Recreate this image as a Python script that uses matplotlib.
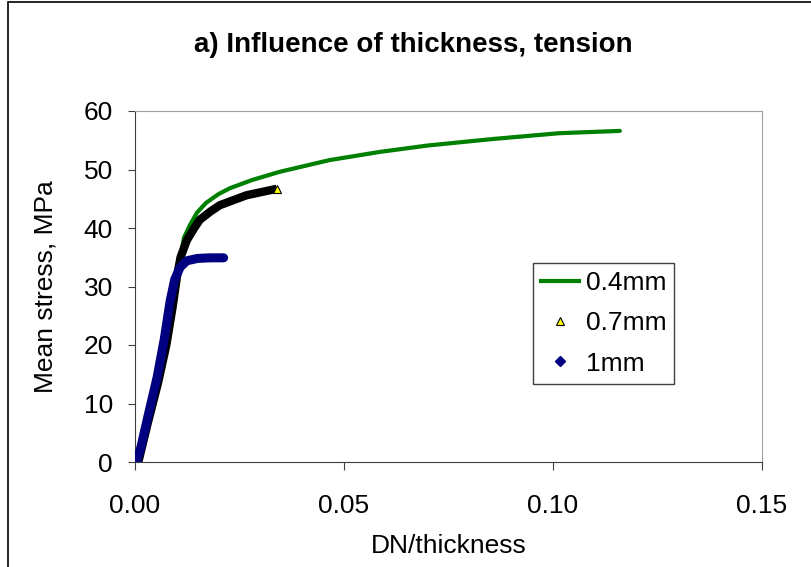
import matplotlib
matplotlib.use("Agg")
import matplotlib.pyplot as plt
from matplotlib.lines import Line2D
from matplotlib.patches import Rectangle

plt.rcParams['font.family'] = ['Liberation Sans', 'DejaVu Sans']

# 0.4mm (green line)
x04 = [0.0008, 0.0075, 0.0101, 0.0117, 0.013, 0.0148, 0.017, 0.020, 0.0227, 0.028, 0.0346,
       0.0465, 0.0585, 0.07, 0.0854, 0.1014, 0.116]
y04 = [0.0, 20.0, 32.0, 38.3, 40.3, 42.6, 44.3, 45.8, 46.8, 48.2, 49.6,
       51.6, 53.0, 54.1, 55.2, 56.2, 56.6]

# 0.7mm (dense yellow triangles, look black)
x07 = [0.0008, 0.003, 0.0055, 0.0075, 0.009, 0.0101, 0.0109, 0.0124, 0.014, 0.0155,
       0.018, 0.0203, 0.0267, 0.0339]
y07 = [0.0, 6.5, 13.5, 20.0, 26.5, 32.0, 35.0, 37.9, 39.8, 41.4,
       42.8, 43.9, 45.6, 46.7]

# 1mm (dense navy diamonds)
x1 = [0.0003, 0.0014, 0.003, 0.0053, 0.007, 0.0084, 0.0095, 0.0108, 0.0124, 0.015, 0.018, 0.0212]
y1 = [0.0, 2.5, 7.5, 14.5, 21.0, 27.5, 31.2, 33.3, 34.4, 34.8, 34.9, 34.9]

xticks = [0.0, 0.05, 0.10, 0.15]
yticks = [0, 10, 20, 30, 40, 50, 60]

fs = 19

fig = plt.figure(figsize=(8.11, 5.67), dpi=100)
ax = fig.add_axes([135/811, 105/567, 627/811, 351/567])

ax.plot(x04, y04, color='#008000', lw=3, solid_capstyle='round', zorder=3)
ax.plot(x07, y07, color='black', lw=6, solid_capstyle='butt', zorder=4)
ax.plot(x07[-1:], y07[-1:], ls='none', marker='^', ms=6, mfc='yellow', mec='black', mew=0.8, zorder=5)
ax.plot(x1, y1, color='#000080', lw=6.5, solid_capstyle='round', zorder=6)

ax.set_xlim(0, 0.15)
ax.set_ylim(0, 60)
ax.set_xticks(xticks)
ax.set_xticklabels(['%.2f' % v for v in xticks])
ax.set_yticks(yticks)

for s in ['left', 'bottom']:
    ax.spines[s].set_color('#404040')
for s in ['top', 'right']:
    ax.spines[s].set_color('#a0a0a0')
ax.tick_params(direction='out', color='#404040', labelsize=fs)
ax.tick_params(axis='x', length=6, pad=17)
ax.tick_params(axis='y', length=5, pad=11)

ax.set_xlabel('DN/thickness', fontsize=fs, va='center')
ax.xaxis.set_label_coords(0.5, (462 - 546) / 351)
ax.set_ylabel('Mean stress, MPa', fontsize=fs, va='center')
ax.yaxis.set_label_coords((46 - 135) / 627, 0.5)
fig.text(413/811, 1 - 45/567, 'a) Influence of thickness, tension', ha='center', va='center',
         fontsize=20, fontweight='bold')

handles = [
    Line2D([], [], color='#008000', lw=3),
    Line2D([], [], ls='none', marker='^', ms=6, mfc='yellow', mec='black', mew=0.8),
    Line2D([], [], ls='none', marker='D', ms=5, mfc='#000080', mec='#000080'),
]
leg = ax.legend(handles, ['0.4mm', '0.7mm', '1mm'], loc='upper left',
                bbox_to_anchor=((533-135)/627, (462-263)/351), borderaxespad=0, fontsize=fs,
                frameon=True, fancybox=False, edgecolor='#404040', framealpha=1,
                handlelength=1.45, handletextpad=0.25, labelspacing=0.62, borderpad=0.3)
leg.get_frame().set_linewidth(1)

fig.patches.append(Rectangle((8/811, -0.1), 1.2, 1 - 2/567 + 0.1, transform=fig.transFigure,
                             fill=False, edgecolor='black', lw=1.2))

fig.savefig('out.png', dpi=100)
